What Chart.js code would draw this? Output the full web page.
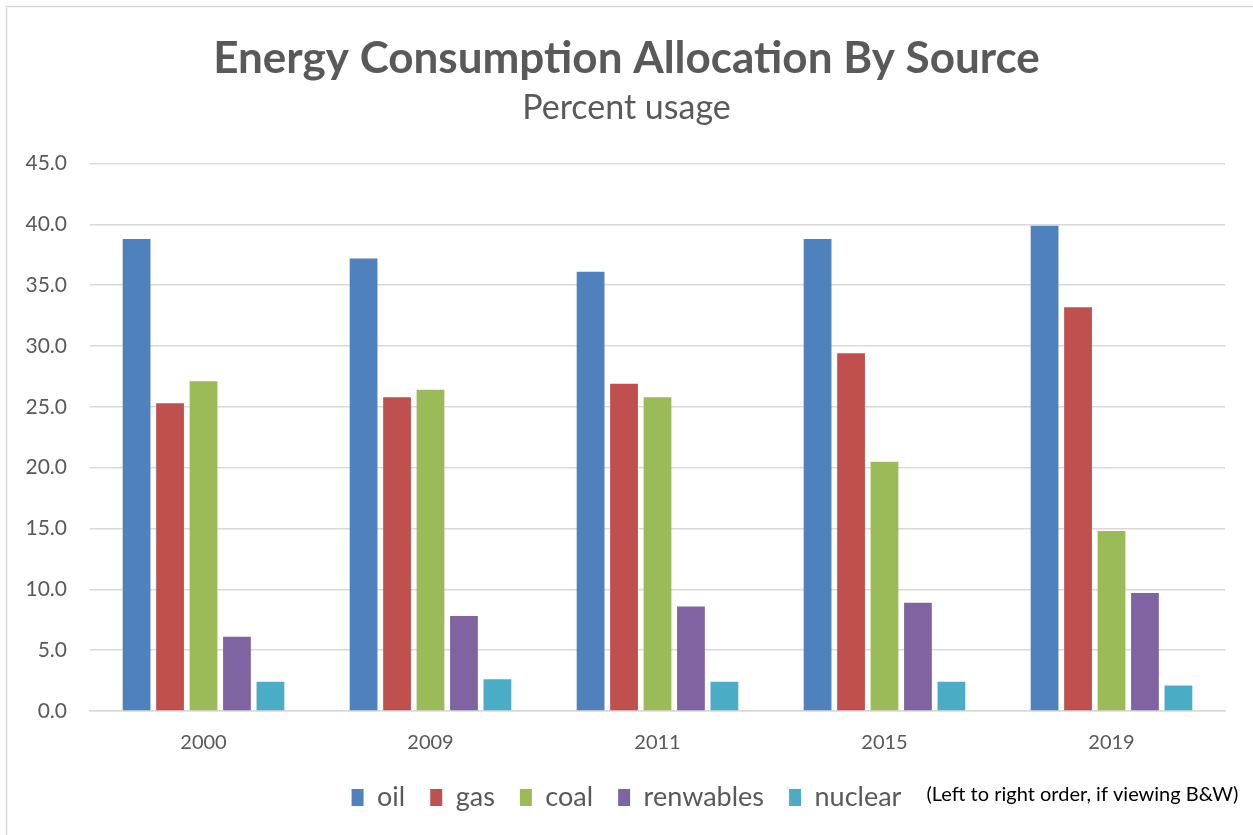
<!DOCTYPE html>
<html>
<head>
<meta charset="utf-8">
<script src="https://cdn.jsdelivr.net/npm/chart.js@4.4.1/dist/chart.umd.min.js"></script>
<style>
  html, body { margin: 0; padding: 0; background: #ffffff; }
  #wrap { position: relative; width: 1253px; height: 835px; }
  canvas { display: block; }
</style>
</head>
<body>
<div id="wrap"><canvas id="chart" width="1253" height="835"></canvas></div>
<script>
// Years on the category axis
const years = ['2000', '2009', '2011', '2015', '2019'];

// Share of total energy consumption, percent
const oil        = [38.8, 37.2, 36.1, 38.8, 39.9];
const gas        = [25.3, 25.8, 26.9, 29.4, 33.2];
const coal       = [27.1, 26.4, 25.8, 20.5, 14.8];
const renewables = [6.1, 7.8, 8.6, 8.9, 9.7];
const nuclear    = [2.4, 2.6, 2.4, 2.4, 2.1];

// Value axis tick range
const yMin = 0, yMax = 45, yStep = 5;

const legendNote = '(Left to right order, if viewing B&W)';

const FONT = 'Lato, "Open Sans", sans-serif';
const GREY = '#595959';

// Light frame along the top and left edges
const framePlugin = {
  id: 'frame',
  beforeDraw(chart) {
    const ctx = chart.ctx;
    ctx.save();
    ctx.fillStyle = '#ffffff';
    ctx.fillRect(0, 0, chart.width, chart.height);
    ctx.strokeStyle = '#d9d9d9';
    ctx.lineWidth = 1.5;
    ctx.beginPath();
    ctx.moveTo(6.5, chart.height);
    ctx.lineTo(6.5, 6.5);
    ctx.lineTo(chart.width, 6.5);
    ctx.stroke();
    ctx.restore();
  }
};

// Reading-order hint written to the right of the legend
const notePlugin = {
  id: 'legendNote',
  afterDraw(chart) {
    const boxes = chart.legend && chart.legend.legendHitBoxes;
    if (!boxes || !boxes.length) return;
    const last = boxes[boxes.length - 1];
    const ctx = chart.ctx;
    ctx.save();
    ctx.font = '20px ' + FONT;
    ctx.fillStyle = '#000000';
    ctx.textBaseline = 'middle';
    ctx.textAlign = 'left';
    ctx.fillText(legendNote, last.left + last.width + 25, last.top + last.height / 2 - 3);
    ctx.restore();
  }
};

const mk = (label, data, color) => ({
  label, data,
  backgroundColor: color,
  borderWidth: 0,
  barPercentage: 0.83,
  categoryPercentage: 0.737
});

new Chart(document.getElementById('chart'), {
  type: 'bar',
  data: {
    labels: years,
    datasets: [
      mk('oil', oil, '#4F81BD'),
      mk('gas', gas, '#C0504D'),
      mk('coal', coal, '#9BBB59'),
      mk('renwables', renewables, '#8064A2'),
      mk('nuclear', nuclear, '#4BACC6')
    ]
  },
  options: {
    responsive: false,
    animation: false,
    devicePixelRatio: 1,
    layout: { padding: { left: 0, right: 0, top: 0, bottom: 14 } },
    plugins: {
      title: {
        display: true,
        text: 'Energy Consumption Allocation By Source',
        color: GREY,
        font: { family: FONT, size: 44, weight: 'bold', lineHeight: 1.2 },
        padding: { top: 32, bottom: 3 }
      },
      subtitle: {
        display: true,
        text: 'Percent usage',
        color: GREY,
        font: { family: FONT, size: 34, weight: 'normal', lineHeight: 1.2 },
        padding: { top: 0, bottom: 35 }
      },
      legend: {
        position: 'bottom',
        align: 'center',
        labels: {
          color: GREY,
          font: { family: FONT, size: 27 },
          boxWidth: 12,
          boxHeight: 17,
          padding: 25
        }
      },
      tooltip: { enabled: false }
    },
    scales: {
      x: {
        // Pull the category strip closer to the legend
        afterFit(scale) { scale.height = scale.height - 16; },
        grid: { display: false, drawTicks: false },
        border: { display: true, color: '#d9d9d9', width: 1.5 },
        ticks: {
          color: GREY,
          font: { family: FONT, size: 20 },
          padding: 20
        }
      },
      y: {
        min: yMin,
        max: yMax,
        afterFit(scale) { scale.width = 90; },
        grid: { color: '#d9d9d9', lineWidth: 1.5, drawTicks: false },
        border: { display: false },
        ticks: {
          stepSize: yStep,
          color: GREY,
          font: { family: FONT, size: 21 },
          padding: 23,
          callback: v => Number(v).toFixed(1)
        }
      },
      // Blank right-hand strip that keeps the plot clear of the edge
      yRight: {
        position: 'right',
        display: true,
        afterFit(scale) { scale.width = 28; },
        grid: { display: false, drawTicks: false },
        border: { display: false },
        ticks: { display: false }
      }
    }
  },
  plugins: [framePlugin, notePlugin]
});
</script>
</body>
</html>
